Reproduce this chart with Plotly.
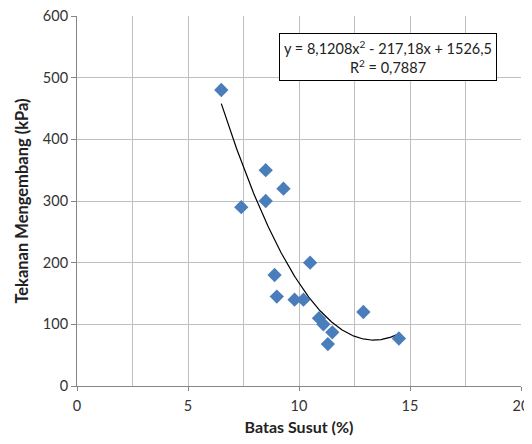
import numpy as np
import plotly.graph_objects as go

batas_susut = [6.5, 8.5, 9.3, 8.5, 7.4, 10.5, 8.9, 9.0, 9.8, 10.2, 10.9, 11.1, 11.5, 11.3, 12.9, 14.5]
tekanan = [480, 350, 320, 300, 290, 200, 180, 145, 140, 140, 110, 100, 87, 68, 120, 77]
poly_coef = [8.1208, -217.18, 1526.5]
r2_label = "0,7887"

x_fit = np.linspace(min(batas_susut), max(batas_susut), 200)
y_fit = np.polyval(poly_coef, x_fit)

FONT = "Lato, 'Open Sans', sans-serif"

fig = go.Figure()
fig.add_trace(go.Scatter(x=x_fit, y=y_fit, mode="lines",
                         line=dict(color="black", width=1.2), hoverinfo="skip"))
fig.add_trace(go.Scatter(x=batas_susut, y=tekanan, mode="markers",
                         marker=dict(symbol="diamond", size=11, color="#4A7EBB")))

fig.update_layout(
    width=524, height=428,
    margin=dict(l=69, r=11, t=8, b=50),
    paper_bgcolor="white", plot_bgcolor="white",
    showlegend=False,
    font=dict(family=FONT, size=14.5, color="#333333"),
    xaxis=dict(range=[0, 20], dtick=5, tick0=0, showgrid=True, gridcolor="#BFBFBF", gridwidth=1,
               minor=dict(dtick=2.5, showgrid=True, gridcolor="#BFBFBF", ticks=""),
               showline=True, linecolor="#868686", linewidth=1, mirror=False, automargin=False,
               ticks="outside", ticklen=4, tickcolor="#868686", zeroline=False,
               ticklabeloverflow="allow", ticklabelstandoff=3,
               title=dict(text="<b>Batas Susut (%)</b>", font=dict(size=16, color="#222222"), standoff=14)),
    yaxis=dict(range=[0, 600], dtick=100, showgrid=True, gridcolor="#BFBFBF", gridwidth=1,
               showline=True, linecolor="#868686", linewidth=1, automargin=False,
               ticks="outside", ticklen=5, tickcolor="#868686", zeroline=False,
               ticklabeloverflow="allow",
               title=dict(text="<b>Tekanan Mengembang (kPa)</b>", font=dict(size=16.5, color="#222222"), standoff=10)),
)

fig.add_annotation(
    xref="paper", yref="paper", x=0.70, y=0.89, xanchor="center", yanchor="middle",
    text=f"y = 8,1208x<sup>2</sup> - 217,18x + 1526,5<br>R<sup>2</sup> = {r2_label}",
    showarrow=False, bgcolor="white", bordercolor="black", borderwidth=1, borderpad=4,
    font=dict(family=FONT, size=14.5, color="#222222"), align="center")

fig.write_html("out.html")
